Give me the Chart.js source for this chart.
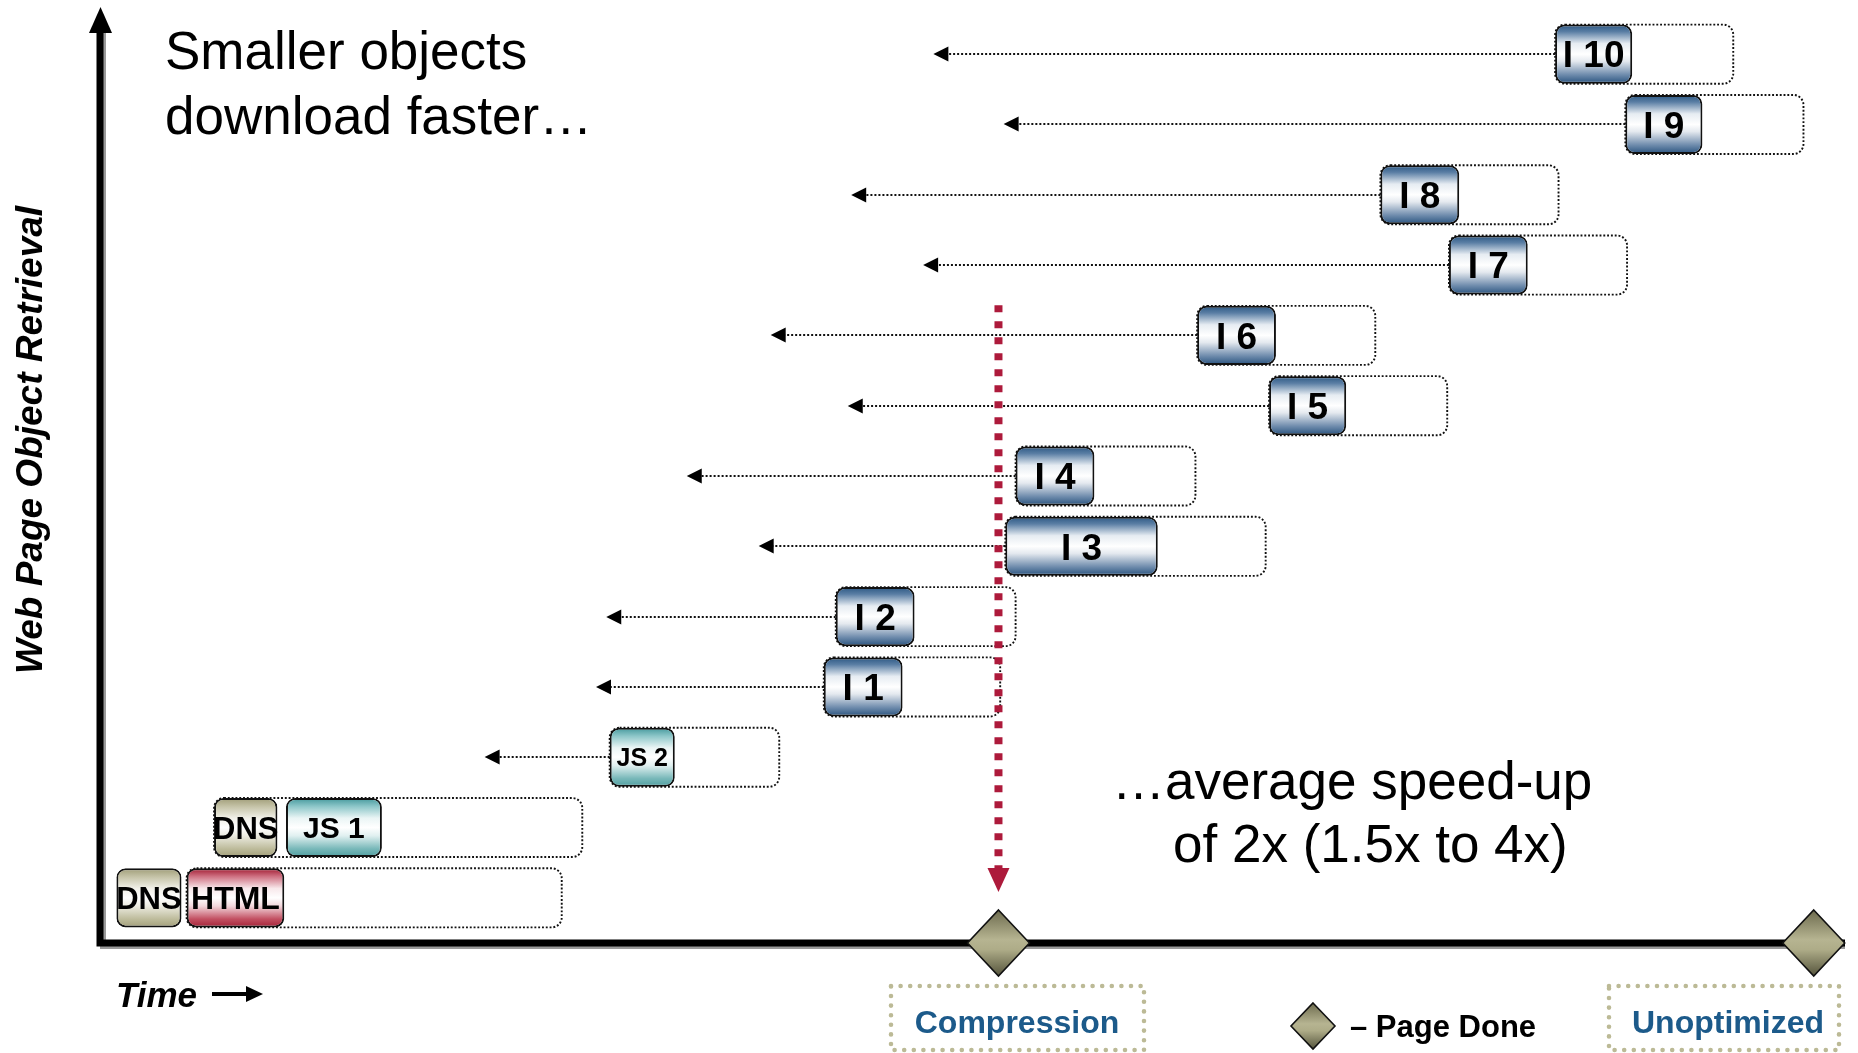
<!DOCTYPE html>
<html>
<head>
<meta charset="utf-8">
<script src="https://cdn.jsdelivr.net/npm/chart.js@4.4.1/dist/chart.umd.min.js"></script>
<style>
  html, body { margin: 0; padding: 0; background: #ffffff; }
  #wrap { width: 1858px; height: 1053px; position: relative; }
</style>
</head>
<body>
<div id="wrap"><canvas id="waterfall" width="1858" height="1053"></canvas></div>
<script>
// Objects fetched for the page, bottom row first
const rowLabels = ['HTML', 'JS 1', 'JS 2', 'I 1', 'I 2', 'I 3', 'I 4', 'I 5', 'I 6', 'I 7', 'I 8', 'I 9', 'I 10'];
const rowKinds  = ['html', 'js', 'js', 'img', 'img', 'img', 'img', 'img', 'img', 'img', 'img', 'img', 'img'];

// DNS lookup before the first two objects (time units)
const dnsStart = [0.9, 6.6, null, null, null, null, null, null, null, null, null, null, null];
const dnsEnd   = [4.7, 10.3, null, null, null, null, null, null, null, null, null, null, null];

// Compressed download of each object
const fetchStart = [5.0, 10.8, 29.7, 42.2, 42.9, 52.8, 53.4, 68.2, 64.0, 78.7, 74.7, 89.0, 84.9];
const fetchEnd   = [10.7, 16.4, 33.5, 46.8, 47.5, 61.7, 58.0, 72.7, 68.6, 83.3, 79.3, 93.5, 89.4];

// Uncompressed download span (dotted outline)
const unoptStart = [5.0, 6.6, 29.7, 42.2, 42.9, 52.8, 53.4, 68.2, 64.0, 78.7, 74.7, 89.0, 84.9];
const unoptEnd   = [26.9, 28.1, 39.6, 52.5, 53.4, 68.0, 63.9, 78.6, 74.4, 89.1, 85.1, 99.4, 95.3];

// Earlier start each object moves to once the objects before it shrink
const shiftTo = [null, null, 22.4, 28.9, 29.5, 38.4, 34.2, 43.6, 39.1, 48.0, 43.8, 52.7, 48.6];

// Page-done moments
const pageDoneNames = ['Compression', 'Unoptimized'];
const pageDone = [52.4, 100];

// ---- look ----
const BAR_FRACTION = 0.84;
const palettes = {
  dns:  [[0, '#9f9c77'], [0.14, '#c4c2a6'], [0.34, '#f1f0e8'], [0.5, '#ffffff'], [0.64, '#ecebe0'], [0.86, '#bdbb9b'], [1, '#a29f7a']],
  html: [[0, '#a01a30'], [0.14, '#cf7283'], [0.34, '#f8e8eb'], [0.5, '#ffffff'], [0.64, '#f2d6db'], [0.86, '#c24f61'], [1, '#a42237']],
  js:   [[0, '#43979b'], [0.14, '#8cc6c8'], [0.34, '#eaf5f5'], [0.5, '#ffffff'], [0.64, '#e0f0f0'], [0.86, '#78b8b9'], [1, '#4f9ea0']],
  img:  [[0, '#2a5682'], [0.12, '#5a7ea4'], [0.32, '#e6ecf2'], [0.5, '#ffffff'], [0.62, '#e4e9ef'], [0.85, '#6e8bac'], [1, '#28527e']]
};
const labelSize = { html: 32, js: 30, img: 37 };
const FONT = '"Liberation Sans", Arial, Helvetica, sans-serif';

function bandHeight(chart) {
  const y = chart.scales.y;
  return (y.bottom - y.top) / rowLabels.length * BAR_FRACTION;
}

function boxFill(kindOf) {
  return (ctx) => {
    const chart = ctx.chart;
    if (!chart.chartArea || ctx.type !== 'data') return '#cccccc';
    const kind = kindOf(ctx.dataIndex);
    const cy = chart.scales.y.getPixelForValue(ctx.dataIndex);
    const h = bandHeight(chart);
    const g = chart.ctx.createLinearGradient(0, cy - h / 2, 0, cy + h / 2);
    palettes[kind].forEach(([o, c]) => g.addColorStop(o, c));
    return g;
  };
}

function arrowHead(ctx, tipX, tipY, dir, len, half) {
  ctx.beginPath();
  if (dir === 'left') {
    ctx.moveTo(tipX, tipY);
    ctx.lineTo(tipX + len, tipY - half);
    ctx.lineTo(tipX + len, tipY + half);
  } else if (dir === 'right') {
    ctx.moveTo(tipX, tipY);
    ctx.lineTo(tipX - len, tipY - half);
    ctx.lineTo(tipX - len, tipY + half);
  } else if (dir === 'up') {
    ctx.moveTo(tipX, tipY);
    ctx.lineTo(tipX - half, tipY + len);
    ctx.lineTo(tipX + half, tipY + len);
  } else {
    ctx.moveTo(tipX, tipY);
    ctx.lineTo(tipX - half, tipY - len);
    ctx.lineTo(tipX + half, tipY - len);
  }
  ctx.closePath();
  ctx.fill();
}

function diamond(ctx, cx, cy, hw, hh) {
  const g = ctx.createLinearGradient(0, cy - hh, 0, cy + hh);
  g.addColorStop(0, '#6d6b4e');
  g.addColorStop(0.45, '#b6b491');
  g.addColorStop(0.6, '#aeac88');
  g.addColorStop(1, '#55543c');
  ctx.beginPath();
  ctx.moveTo(cx, cy - hh);
  ctx.lineTo(cx + hw, cy);
  ctx.lineTo(cx, cy + hh);
  ctx.lineTo(cx - hw, cy);
  ctx.closePath();
  ctx.fillStyle = g;
  ctx.fill();
  ctx.lineWidth = 1.6;
  ctx.strokeStyle = '#111111';
  ctx.stroke();
}

function olivePill(ctx, x, y, w, h) {
  ctx.save();
  ctx.strokeStyle = '#bcba96';
  ctx.lineWidth = 4.6;
  ctx.lineCap = 'round';
  ctx.setLineDash([0, 9.6]);
  ctx.strokeRect(x, y, w, h);
  ctx.restore();
}

const decor = {
  id: 'waterfallDecor',
  beforeDatasetsDraw(chart) {
    const { ctx } = chart;
    const xs = chart.scales.x, ys = chart.scales.y;
    const h = bandHeight(chart);
    ctx.save();
    // dotted outline of the uncompressed download
    ctx.strokeStyle = '#111111';
    ctx.lineWidth = 1.9;
    ctx.setLineDash([1.9, 1.9]);
    rowLabels.forEach((_, i) => {
      const x0 = xs.getPixelForValue(unoptStart[i]);
      const x1 = xs.getPixelForValue(unoptEnd[i]);
      const cy = ys.getPixelForValue(i);
      ctx.beginPath();
      ctx.roundRect(x0, cy - h / 2, x1 - x0, h, 10);
      ctx.stroke();
    });
    // dotted arrows towards the earlier start
    ctx.lineWidth = 2;
    rowLabels.forEach((_, i) => {
      if (shiftTo[i] == null) return;
      const x0 = xs.getPixelForValue(fetchStart[i]);
      const xt = xs.getPixelForValue(shiftTo[i]);
      const cy = Math.round(ys.getPixelForValue(i));
      ctx.setLineDash([2, 2]);
      ctx.strokeStyle = '#111111';
      ctx.beginPath();
      ctx.moveTo(x0, cy);
      ctx.lineTo(xt + 12, cy);
      ctx.stroke();
      ctx.setLineDash([]);
      ctx.fillStyle = '#000000';
      arrowHead(ctx, xt, cy, 'left', 15, 7.5);
    });
    ctx.restore();
  },
  afterDatasetsDraw(chart) {
    const { ctx, chartArea } = chart;
    const xs = chart.scales.x, ys = chart.scales.y;
    ctx.save();

    // labels inside the boxes
    ctx.fillStyle = '#000000';
    ctx.textAlign = 'center';
    ctx.textBaseline = 'alphabetic';
    const dnsMeta = chart.getDatasetMeta(0);
    dnsMeta.data.forEach((el, i) => {
      if (dnsStart[i] == null) return;
      const size = 31;
      ctx.font = `bold ${size}px ${FONT}`;
      ctx.fillText('DNS', (el.x + el.base) / 2, el.y + size * 0.358);
    });
    const objMeta = chart.getDatasetMeta(1);
    objMeta.data.forEach((el, i) => {
      let size = labelSize[rowKinds[i]];
      if (rowLabels[i] === 'JS 2') size = 25;
      ctx.font = `bold ${size}px ${FONT}`;
      ctx.fillText(rowLabels[i], (el.x + el.base) / 2, el.y + size * 0.358);
    });

    // axes
    const axisY = chartArea.bottom + 10;
    const axisX = chartArea.left - 1;
    ctx.lineCap = 'butt';
    ctx.strokeStyle = '#9a9a9a';
    ctx.lineWidth = 3;
    ctx.beginPath();
    ctx.moveTo(axisX + 4.5, 30); ctx.lineTo(axisX + 4.5, axisY + 5);
    ctx.moveTo(axisX, axisY + 4.5); ctx.lineTo(1845, axisY + 4.5);
    ctx.stroke();
    ctx.strokeStyle = '#000000';
    ctx.lineWidth = 7;
    ctx.beginPath();
    ctx.moveTo(axisX, 28); ctx.lineTo(axisX, axisY + 3.5);
    ctx.moveTo(axisX - 3.5, axisY); ctx.lineTo(1845, axisY);
    ctx.stroke();
    ctx.fillStyle = '#000000';
    arrowHead(ctx, axisX + 0.5, 7, 'up', 26, 11.5);

    // red dotted drop line at the compressed page-done time
    const rx = xs.getPixelForValue(pageDone[0]);
    const topY = ys.getPixelForValue(8.43);
    const tipY = axisY - 51;
    ctx.strokeStyle = '#ad1a3b';
    ctx.fillStyle = '#ad1a3b';
    ctx.lineWidth = 8;
    ctx.setLineDash([7, 9]);
    ctx.beginPath();
    ctx.moveTo(rx, topY);
    ctx.lineTo(rx, tipY - 22);
    ctx.stroke();
    ctx.setLineDash([]);
    arrowHead(ctx, rx, tipY, 'down', 24, 11);

    // page-done diamonds
    pageDone.forEach((v) => diamond(ctx, xs.getPixelForValue(v), axisY, 31, 33));

    // captions under the time axis
    olivePill(ctx, 891, 986, 253, 64);
    olivePill(ctx, 1609, 986, 230, 64);
    ctx.fillStyle = '#1c5a8a';
    ctx.font = `bold 32px ${FONT}`;
    ctx.textAlign = 'center';
    ctx.fillText(pageDoneNames[0], 1017, 1033);
    ctx.fillText(pageDoneNames[1], 1728, 1033);

    diamond(ctx, 1313, 1026, 22, 23);
    ctx.fillStyle = '#000000';
    ctx.textAlign = 'left';
    ctx.font = `bold 31px ${FONT}`;
    ctx.fillText('\u2013 Page Done', 1350, 1037);

    // axis titles
    ctx.font = `italic bold 35px ${FONT}`;
    ctx.fillText('Time', 116, 1007);
    ctx.strokeStyle = '#000000';
    ctx.lineWidth = 4;
    ctx.beginPath();
    ctx.moveTo(212, 994); ctx.lineTo(250, 994);
    ctx.stroke();
    arrowHead(ctx, 263, 994, 'right', 17, 8);

    ctx.save();
    ctx.translate(42, 440);
    ctx.rotate(-Math.PI / 2);
    ctx.textAlign = 'center';
    ctx.font = `italic bold 37px ${FONT}`;
    ctx.fillText('Web Page Object Retrieval', 0, 0);
    ctx.restore();

    // commentary
    ctx.font = `53px ${FONT}`;
    ctx.textAlign = 'left';
    ctx.fillText('Smaller objects', 165, 69);
    ctx.fillText('download faster\u2026', 165, 134);
    ctx.fillText('\u2026average speed-up', 1112, 799);
    ctx.fillText('of 2x (1.5x to 4x)', 1173, 862);

    ctx.restore();
  }
};

new Chart(document.getElementById('waterfall'), {
  type: 'bar',
  data: {
    labels: rowLabels,
    datasets: [
      {
        label: 'DNS',
        data: rowLabels.map((_, i) => dnsStart[i] == null ? null : [dnsStart[i], dnsEnd[i]]),
        backgroundColor: boxFill(() => 'dns'),
        borderColor: '#111111',
        borderWidth: 2,
        borderRadius: 9,
        borderSkipped: false,
        grouped: false,
        barPercentage: BAR_FRACTION,
        categoryPercentage: 1
      },
      {
        label: 'Download',
        data: rowLabels.map((_, i) => [fetchStart[i], fetchEnd[i]]),
        backgroundColor: boxFill((i) => rowKinds[i]),
        borderColor: '#111111',
        borderWidth: 2,
        borderRadius: 9,
        borderSkipped: false,
        grouped: false,
        barPercentage: BAR_FRACTION,
        categoryPercentage: 1
      }
    ]
  },
  options: {
    indexAxis: 'y',
    responsive: false,
    animation: false,
    devicePixelRatio: 1,
    layout: { padding: { left: 101, right: 10, top: 19, bottom: 120 } },
    plugins: { legend: { display: false }, tooltip: { enabled: false } },
    scales: {
      x: { type: 'linear', min: 0, max: 102, display: false },
      y: { type: 'category', reverse: true, offset: true, display: false }
    }
  },
  plugins: [decor]
});
</script>
</body>
</html>
